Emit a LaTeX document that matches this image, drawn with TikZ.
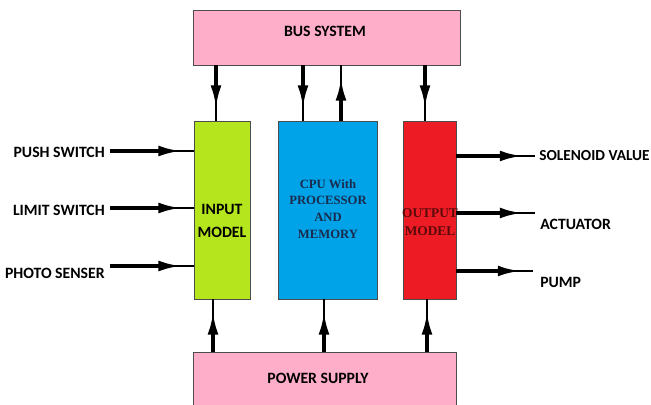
\documentclass[tikz,border=0pt]{standalone}
\usepackage{fontspec}
\setmainfont{Liberation Serif}
\newfontfamily\rotfont{Carlito}
\usepackage{tikz}
\usetikzlibrary{arrows.meta}
\usepackage{xcolor}
\definecolor{rosa}{HTML}{FFAEC9}
\definecolor{verde}{HTML}{B5E61D}
\definecolor{azul}{HTML}{00A2E8}
\definecolor{rojo}{HTML}{ED1C24}
\definecolor{marino}{HTML}{1A2B4C}
\definecolor{granate}{HTML}{5A0A0A}

\tikzset{
  bloque/.style={draw=black!70, line width=0.6pt, inner sep=0pt},
  rotulo/.style={font=\rotfont\bfseries\fontsize{11.2}{13}\selectfont, inner sep=0pt, text=black},
  serifa/.style={font=\bfseries\fontsize{9}{12}\selectfont, inner sep=0pt, align=center},
  flecha/.style={draw, line width=0.9pt,
    postaction={draw, line width=3pt, shorten >=7pt, -{Latex[length=18pt,width=7.5pt]}}},
}

\begin{document}
\begin{tikzpicture}[x=0.025cm,y=-0.025cm]
  \clip (0,0) rectangle (651,405);
  \path[use as bounding box] (0,0) rectangle (651,405);
  % Bloques
  \node[bloque, fill=rosa, minimum width=6.675cm, minimum height=1.375cm] (bus) at (326.5,37.5) {};
  \node[bloque, fill=rosa, minimum width=6.575cm, minimum height=1.5cm] (pot) at (325,382) {};
  \node[bloque, fill=verde, minimum width=1.4cm, minimum height=4.45cm] (ent) at (222,210) {};
  \node[bloque, fill=azul, minimum width=2.475cm, minimum height=4.45cm] (cpu) at (327.5,210) {};
  \node[bloque, fill=rojo, minimum width=1.325cm, minimum height=4.45cm] (sal) at (429.5,210) {};
  % Textos de los bloques
  \node[rotulo] (bustxt) at (325,31) {BUS SYSTEM};
  \node[rotulo] (pottxt) at (318,378) {POWER SUPPLY};
  \node[rotulo, align=center, font=\rotfont\bfseries\fontsize{11.2}{16}\selectfont] (enttxt) at (222,221) {INPUT\\MODEL};
  \node[serifa, text=marino] (cputxt) at (328,209) {CPU With\\PROCESSOR\\AND\\MEMORY};
  \node[serifa, text=granate, font=\bfseries\fontsize{9.5}{13}\selectfont] (saltxt) at (430,222) {OUTPUT\\MODEL};
  % Entradas
  \node[rotulo, anchor=east] (l1) at (105,152) {PUSH SWITCH};
  \node[rotulo, anchor=east] (l2) at (105,210) {LIMIT SWITCH};
  \node[rotulo, anchor=east] (l3) at (105,273) {PHOTO SENSER};
  \foreach \y [count=\i] in {151,208,266}{
    \coordinate (e\i) at (110,\y);
    \path[flecha] (e\i) -- (e\i -| ent.west);
  }
  % Salidas
  \node[rotulo, anchor=west, font=\rotfont\bfseries\fontsize{10.9}{13}\selectfont] (r1) at (539,156) {SOLENOID VALUE};
  \node[rotulo, anchor=west] (r2) at (540,224) {ACTUATOR};
  \node[rotulo, anchor=west] (r3) at (540,282) {PUMP};
  \foreach \y/\xf [count=\i] in {156/535,213/535,271/533}{
    \coordinate (s\i) at (\xf,\y);
    \path[flecha] (s\i -| sal.east) -- (s\i);
  }
  % Bus y alimentacion
  \path[flecha] (216,0 |- bus.south) -- (216,0 |- ent.north);
  \path[flecha] (303,0 |- bus.south) -- (303,0 |- cpu.north);
  \path[flecha] (341,0 |- cpu.north) -- (341,0 |- bus.south);
  \path[flecha] (425,0 |- bus.south) -- (425,0 |- sal.north);
  \foreach \x/\b in {213/ent,324/cpu,427/sal}
    \path[flecha] (\x,0 |- pot.north) -- (\x,0 |- \b.south);
\end{tikzpicture}
\end{document}
